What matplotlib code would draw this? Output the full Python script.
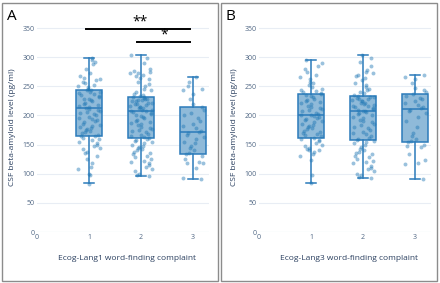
import numpy as np
import matplotlib
matplotlib.use("Agg")
import matplotlib.pyplot as plt
from matplotlib.patches import Rectangle

plt.rcParams['font.family'] = ['Open Sans', 'DejaVu Sans']

# valores (pg/ml)
a1 = [83, 97, 99, 108, 112, 118, 125, 130, 135, 138, 142, 145, 148, 150, 152, 155, 158, 160,
      162, 164, 165, 167, 170, 172, 174, 175, 177, 178, 180, 182, 184, 186, 188, 190, 192, 194,
      196, 198, 200, 202, 204, 206, 208, 210, 211, 213, 214, 216, 218, 220, 222, 224, 226, 228,
      229, 231, 233, 235, 236, 238, 240, 241, 243, 244, 246, 248, 250, 253, 256, 258, 260, 262,
      265, 268, 272, 280, 288, 292, 295, 298]
a2 = [96, 98, 100, 104, 108, 112, 115, 118, 120, 122, 125, 128, 130, 133, 135, 138, 140, 142,
      144, 146, 148, 150, 152, 154, 156, 158, 160, 161, 163, 165, 167, 169, 171, 173, 175, 177,
      179, 181, 183, 185, 187, 189, 191, 193, 195, 197, 199, 201, 203, 205, 206, 207, 208, 209,
      210, 212, 213, 214, 215, 217, 218, 219, 220, 221, 222, 224, 225, 226, 227, 228, 229, 230,
      231, 232, 233, 235, 237, 240, 243, 246, 250, 254, 258, 262, 265, 268, 270, 272, 273, 275,
      276, 280, 290, 298, 304]
a3 = [91, 93, 110, 118, 119, 120, 125, 130, 134, 136, 140, 145, 148, 152, 155, 160, 163, 166,
      170, 171, 173, 178, 182, 186, 190, 195, 200, 205, 210, 214, 220, 228, 236, 244, 246, 250,
      258, 266]
b1 = [84, 97, 124, 130, 134, 138, 140, 141, 143, 145, 148, 150, 153, 156, 158, 160, 162, 164,
      166, 168, 170, 172, 174, 176, 178, 180, 182, 184, 186, 188, 190, 192, 194, 196, 198, 199,
      200, 201, 203, 205, 207, 209, 211, 213, 215, 217, 219, 221, 223, 225, 227, 229, 231, 233,
      235, 236, 238, 240, 242, 244, 246, 248, 252, 255, 258, 262, 266, 270, 275, 280, 285, 290, 296]
b2 = [93, 95, 97, 100, 104, 108, 110, 114, 118, 120, 122, 125, 128, 130, 133, 135, 138, 140,
      143, 146, 150, 153, 155, 157, 158, 160, 162, 165, 168, 170, 172, 175, 178, 180, 183, 185,
      188, 190, 193, 195, 198, 200, 202, 204, 206, 207, 208, 210, 211, 213, 214, 216, 217, 218,
      220, 221, 222, 224, 225, 226, 228, 229, 230, 231, 232, 233, 235, 238, 240, 243, 246, 249,
      252, 256, 260, 264, 268, 270, 273, 275, 278, 285, 292, 298, 303]
b3 = [91, 117, 118, 123, 133, 146, 148, 150, 155, 157, 160, 165, 170, 180, 190, 198, 205, 208,
      210, 212, 215, 218, 222, 225, 228, 230, 233, 236, 240, 244, 247, 256, 262, 266, 270]

# estadisticos de las cajas: min, q1, mediana, q3, max
caja_a = [(83.5, 165, 213, 244, 298), (96, 161, 207, 232, 304), (91, 134, 171, 214.5, 266)]
caja_b = [(83.5, 162, 200, 236, 296), (93, 158, 207, 233, 303), (91, 155, 210.5, 236, 270)]

grupos = [1, 2, 3]
etiquetas_x = ["Ecog-Lang1 word-finding complaint", "Ecog-Lang3 word-finding complaint"]

AZUL = '#2b7bba'
TEXTO = '#2a3f5f'

fig = plt.figure(figsize=(4.4, 2.83), dpi=100)


def panel(left, datos, cajas, xlabel, letra, borde_x):
    ax = fig.add_axes([left, 0.1802, 171.6 / 440, 209.8 / 283])
    stats = [dict(whislo=c[0], q1=c[1], med=c[2], q3=c[3], whishi=c[4], fliers=[]) for c in cajas]
    ax.bxp(stats, positions=grupos, widths=0.49, capwidths=0.2, patch_artist=True,
           showfliers=False,
           boxprops=dict(facecolor='#8fbad9', edgecolor=AZUL, linewidth=1.1),
           medianprops=dict(color=AZUL, linewidth=1.1),
           whiskerprops=dict(color=AZUL, linewidth=1.1),
           capprops=dict(color=AZUL, linewidth=1.1), zorder=2)
    for g, vals in zip(grupos, datos):
        n = len(vals)
        i = np.arange(n) + 7 * g
        # jitter determinista (solo posicion horizontal)
        off = ((np.sin(i * 12.9898 + 78.233) * 43758.5453) % 1 - 0.5) * 0.44
        ax.scatter(g + off, vals, s=8, color='#1f77b4', alpha=0.45, linewidths=0, zorder=3)
    ax.set_xlim(0, 3.3)
    ax.set_ylim(0, 360)
    ax.set_yticks(range(0, 351, 50))
    ax.set_xticks([0, 1, 2, 3])
    ax.set_xticklabels(['0', '1', '2', '3'])
    ax.grid(axis='y', color='#e8edf4', linewidth=0.8, zorder=0)
    ax.set_axisbelow(True)
    for s in ax.spines.values():
        s.set_visible(False)
    ax.axhline(0, color='#e8edf4', linewidth=0.8, zorder=0)
    ax.tick_params(length=0, labelsize=5, labelcolor='#506784', pad=1.5)
    ax.set_ylabel("CSF beta-amyloid level (pg/ml)", fontsize=6, color=TEXTO, labelpad=5)
    fig.text((left * 440 + 90) / 440, 1 - 258 / 283, xlabel, fontsize=6, color=TEXTO,
             ha='center', va='center')
    fig.text(borde_x + 5 / 440, 1 - 17 / 283, letra, fontsize=11, color='black',
             ha='left', va='center')
    fig.add_artist(Rectangle((borde_x, 2 / 283), 216 / 440, 278 / 283, transform=fig.transFigure,
                             fill=False, edgecolor='#8c8c8c', linewidth=1.0))
    return ax


ax_a = panel(37 / 440, [a1, a2, a3], caja_a, etiquetas_x[0], "A", 1.5 / 440)
ax_b = panel(259 / 440, [b1, b2, b3], caja_b, etiquetas_x[1], "B", 220.5 / 440)

# barras de significancia
ax_a.plot([0.95, 2.94], [348, 348], color='black', lw=1.4, clip_on=False, zorder=4)
ax_a.plot([1.93, 2.94], [326, 326], color='black', lw=1.4, clip_on=False, zorder=4)
ax_a.text(1.99, 347, "**", fontsize=10, ha='center', va='bottom', clip_on=False)
ax_a.text(2.44, 325, "*", fontsize=10, ha='center', va='bottom', clip_on=False)

fig.savefig("out.png", dpi=100)
